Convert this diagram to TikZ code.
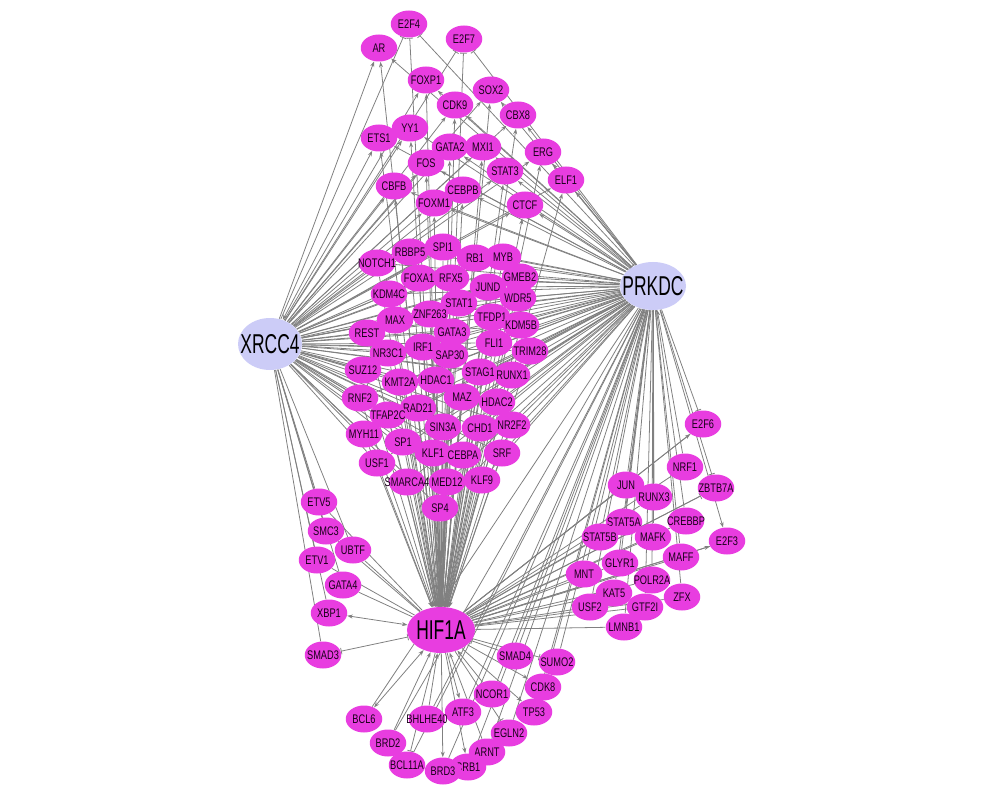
\documentclass[tikz,border=0pt]{standalone}
\usepackage{fontspec}
\newfontfamily\tffont[FakeStretch=0.74]{Liberation Sans}
\newfontfamily\hubfont[FakeStretch=0.64]{Liberation Sans}
\usetikzlibrary{shapes.geometric}
\usetikzlibrary{arrows.meta}
\usetikzlibrary{backgrounds}

\begin{document}
\begin{tikzpicture}[x=0.2mm,y=-0.2mm,
  flat/.style={execute at begin node={\hbox to 0pt\bgroup\hss},execute at end node={\hss\egroup}},
  tf/.style={ellipse,flat,fill=mycolorE83CE0,inner sep=0.0,minimum width=7.3mm,minimum height=5.4mm,text=mycolor1A001A,font=\tffont\fontsize{7.1pt}{7.5pt}\selectfont},
  hub/.style={ellipse,flat,fill=mycolorCCCCF8,inner sep=0.0,text=mycolor000000,font=\hubfont\fontsize{15.5pt}{16pt}\selectfont},
  link/.style={draw=mycolor7F7F7F,line width=0.45pt},
  linkto/.style={link,-{Stealth[length=1.1mm,width=0.8mm]}},
  linkbar/.style={link,-{Bar[width=1.3mm]}},
  linkboth/.style={link,{Stealth[length=1.1mm,width=0.8mm]}-{Stealth[length=1.1mm,width=0.8mm]}},
  linkbars/.style={link,{Bar[width=1.3mm]}-{Bar[width=1.3mm]}}]
\definecolor{mycolorE83CE0}{rgb}{0.91,0.24,0.88}
\definecolor{mycolorCCCCF8}{rgb}{0.8,0.8,0.97}
\definecolor{mycolor7F7F7F}{rgb}{0.5,0.5,0.5}
\definecolor{mycolor1A001A}{rgb}{0.1,0,0.1}
\definecolor{mycolor000000}{rgb}{0,0,0}
\useasboundingbox (0,0) rectangle (1000,798);
% hubs
\node[hub,minimum width=12.8mm,minimum height=10.4mm] (XRCC4) at (270,344) {XRCC4};
\node[hub,minimum width=13.2mm,minimum height=9.6mm] (PRKDC) at (653,286) {PRKDC};
\node[hub,fill=mycolorE83CE0,minimum width=13.6mm,minimum height=9.2mm] (HIF1A) at (441,630) {HIF1A};
% upper targets
\begin{scope}
\foreach \n/\x/\y in {AR/379/48,E2F4/409/24,E2F7/464/39,FOXP1/426/80,SOX2/491/90,CDK9/455/105,
  CBX8/518/115,YY1/410/128,ETS1/379/138,GATA2/450/147,MXI1/483/147,ERG/543/152,FOS/426/163,
  STAT3/505/171,ELF1/566/180,CBFB/394/186,CEBPB/463/190,FOXM1/434/203,CTCF/525/205}
  \node[tf] (\n) at (\x,\y) {\n};
\end{scope}
% centre block
\begin{scope}
\foreach \n/\x/\y in {SPI1/443/247,RBBP5/410/252,NOTCH1/377/263,RB1/475/258,MYB/503/257,
  RFX5/451/278,FOXA1/419/278,GMEB2/520/277,JUND/488/287,KDM4C/389/294,STAT1/459/303,WDR5/518/298,
  ZNF263/430/314,TFDP1/492/317,MAX/395/320,KDM5B/521/325,REST/367/333,GATA3/452/332,IRF1/423/347,
  FLI1/494/343,TRIM28/530/351,NR3C1/388/353,SAP30/450/355,SUZ12/363/370,STAG1/480/372,
  RUNX1/512/375,KMT2A/400/382,HDAC1/436/380,MAZ/462/397,RNF2/360/398,HDAC2/497/402,
  RAD21/418/408,TFAP2C/388/415,SIN3A/443/427,CHD1/480/428,NR2F2/512/425,MYH11/364/434,
  SP1/403/442,KLF1/433/453,CEBPA/463/455,SRF/502/453,USF1/377/463,SMARCA4/407/482,
  MED12/447/482,KLF9/482/480,SP4/440/508}
  \node[tf] (\n) at (\x,\y) {\n};
\end{scope}
% left, right and lower groups
\begin{scope}
\foreach \n/\x/\y in {ETV5/319/502,SMC3/326/531,UBTF/353/550,ETV1/317/560,GATA4/343/585,
  XBP1/329/613,SMAD3/323/655}
  \node[tf] (\n) at (\x,\y) {\n};
\foreach \n/\x/\y in {E2F6/703/424,NRF1/685/467,ZBTB7A/716/488,JUN/626/485,RUNX3/654/497,
  STAT5A/624/522,CREBBP/686/521,E2F3/727/541,STAT5B/600/537,MAFK/653/537,MAFF/681/557,
  GLYR1/620/563,MNT/584/574,POLR2A/652/580,KAT5/614/593,ZFX/682/597,USF2/590/607,
  GTF2I/645/607,LMNB1/624/627}
  \node[tf] (\n) at (\x,\y) {\n};
\foreach \n/\x/\y in {SMAD4/515/656,SUMO2/557/662,CDK8/543/687,NCOR1/492/694,TP53/534/712,
  ATF3/463/712,BCL6/364/719,BHLHE40/427/719,EGLN2/509/733,BRD2/388/743,ARNT/487/752,
  BCL11A/407/765,CRB1/468/767,BRD3/443/771}
  \node[tf] (\n) at (\x,\y) {\n};
\end{scope}
% connectors
\begin{scope}[on background layer]
\foreach \n in {AR,FOXP1,SOX2,CBX8,YY1,GATA2,MXI1,ERG,FOS,STAT3,ELF1,CBFB,CEBPB,FOXM1,CTCF}
  \foreach \h in {XRCC4,PRKDC,HIF1A}
    \draw[linkto] (\h) -- (\n);
\foreach \n in {E2F4,E2F7}
  \foreach \h in {XRCC4,PRKDC,HIF1A}
    \draw[linkbar] (\h) -- (\n);
\draw[linkboth] (XRCC4) -- (ETS1);
\draw[linkto] (HIF1A) -- (ETS1);
\draw[linkto] (PRKDC) -- (ETS1);
\draw[linkto] (XRCC4) -- (CDK9);
\draw[linkto] (HIF1A) -- (CDK9);
\draw[link,{Bar[width=1.3mm]}-{Stealth[length=1.1mm,width=0.8mm]}] (PRKDC) -- (CDK9);
\foreach \n in {SPI1,RBBP5,NOTCH1,RB1,MYB,FOXA1,RFX5,GMEB2,JUND,KDM4C,STAT1,WDR5,ZNF263,
  TFDP1,MAX,KDM5B,REST,GATA3,IRF1,FLI1,TRIM28,NR3C1,SAP30,SUZ12,STAG1,RUNX1,KMT2A,HDAC1,
  MAZ,RNF2,HDAC2,RAD21,TFAP2C,SIN3A,CHD1,NR2F2,MYH11,SP1,KLF1,CEBPA,SRF,USF1,SMARCA4,
  MED12,KLF9,SP4}
  {\draw[link] (XRCC4) -- (\n);
   \draw[link] (PRKDC) -- (\n);
   \draw[linkto] (\n) -- (HIF1A);}
\foreach \n in {ETV5,SMC3,UBTF,ETV1,GATA4,XBP1,SMAD3}
  \draw[link] (XRCC4) -- (\n);
\foreach \n in {ETV5,SMC3,UBTF,ETV1,GATA4}
  \draw[link] (HIF1A) -- (\n);
\draw[linkboth] (XBP1) -- (HIF1A);
\draw[linkbars] (SMAD3) -- (HIF1A);
\foreach \n in {E2F6,NRF1,ZBTB7A,JUN,RUNX3,STAT5A,CREBBP,E2F3,STAT5B,MAFK,MAFF,GLYR1,MNT,
  POLR2A,KAT5,ZFX,USF2,GTF2I,LMNB1}
  \draw[link] (HIF1A) -- (\n);
\foreach \n in {JUN,RUNX3,STAT5A,CREBBP,STAT5B,MAFK,MAFF,GLYR1,MNT,POLR2A,KAT5,ZFX,USF2,
  GTF2I,LMNB1}
  \draw[link] (PRKDC) -- (\n);
\draw[linkbar] (PRKDC) -- (E2F6);
\draw[linkto] (HIF1A) -- (E2F6);
\draw[linkbar] (PRKDC) -- (ZBTB7A);
\draw[linkbar] (HIF1A) -- (ZBTB7A);
\draw[linkto] (PRKDC) -- (E2F3);
\draw[linkto] (HIF1A) -- (E2F3);
\draw[linkto] (NRF1) -- (PRKDC);
\foreach \n in {SMAD4,SUMO2,CDK8,NCOR1,TP53,ATF3,BCL6,BHLHE40,EGLN2,BRD2,ARNT,BCL11A,CRB1,BRD3}
  \draw[link] (PRKDC) -- (\n);
\draw[linkboth] (BCL6) -- (HIF1A);
\draw[linkto] (BHLHE40) -- (HIF1A);
\draw[linkto] (BRD2) -- (HIF1A);
\draw[linkto] (NCOR1) -- (HIF1A);
\draw[linkto] (ARNT) -- (HIF1A);
\draw[linkbar] (SMAD4) -- (HIF1A);
\draw[linkbar] (HIF1A) -- (BCL11A);
\draw[linkto] (HIF1A) -- (BRD3);
\draw[linkto] (HIF1A) -- (CRB1);
\draw[linkto] (HIF1A) -- (ATF3);
\draw[linkbar] (HIF1A) -- (EGLN2);
\draw[linkto] (HIF1A) -- (TP53);
\draw[linkto] (HIF1A) -- (CDK8);
\draw[linkbar] (HIF1A) -- (SUMO2);
\end{scope}
\end{tikzpicture}
\end{document}
